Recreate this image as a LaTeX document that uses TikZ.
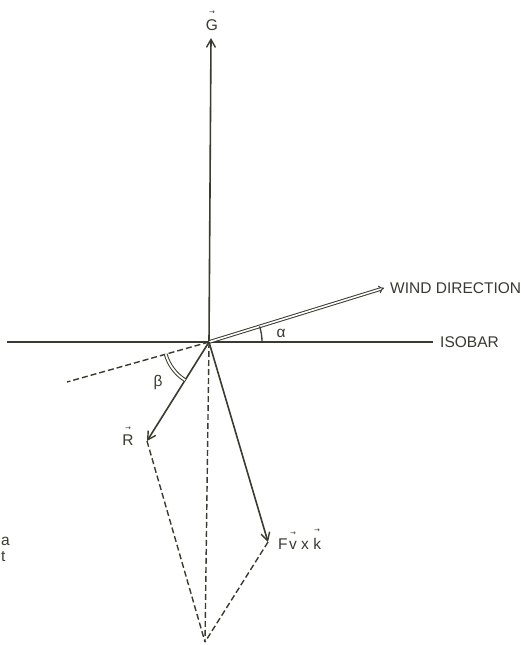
\documentclass[tikz,border=0pt]{standalone}
\usepackage{fontspec}
\setmainfont{Liberation Sans}
\newfontfamily\symfont{DejaVu Sans}
\usetikzlibrary{arrows.meta}
\definecolor{ink}{RGB}{58,58,48}
\newcommand{\vecl}[1]{\shortstack{{\fontsize{7}{6}\selectfont\symfont →}\\[2pt]#1}}
\tikzset{
  vect/.style={ink, line width=1.6pt, -{Straight Barb[length=8pt,width=9pt,line width=1.4pt]}},
  helper/.style={ink, line width=1.4pt, dash pattern=on 6pt off 3pt},
  lbl/.style={ink, font=\fontsize{15.5}{17}\selectfont, inner sep=1pt}
}
\begin{document}
\begin{tikzpicture}[x=1pt, y=-1pt]
  \useasboundingbox (0,0) rectangle (521,645);

  \coordinate (O) at (209,342);
  \coordinate (G) at (211,38);
  \coordinate (wind) at (384,288);
  \coordinate (isoL) at (7,342);
  \coordinate (isoR) at (433,342);
  \coordinate (dash) at (67,382);
  \coordinate (R) at (147,441);
  \coordinate (F) at (268,542);
  \coordinate (B) at (205,642);

  \draw[ink, line width=1.6pt] (isoL) -- (isoR);
  \draw[vect] (O) -- (G);
  \draw[ink, line width=1pt, double, double distance=1.6pt, -{Implies[length=8pt]}] (O) -- (wind);
  \draw[helper] (O) -- (dash);
  \draw[vect] (O) -- (R);
  \draw[vect] (O) -- (F);
  \draw[helper] (R) -- (B);
  \draw[helper] (O) -- (B);
  \draw[helper] (F) -- (B);

  \draw[ink, line width=1.3pt] (O) ++(0:53) arc[start angle=0, end angle=-17.1, radius=53];
  \draw[ink, line width=1pt, double, double distance=1.8pt] (O) ++(-195.7:45) arc[start angle=-195.7, end angle=-237.9, radius=45];

  \node[lbl, anchor=south] (Glbl) at (212,32) {\vecl{G}};
  \node[lbl, anchor=west] (windlbl) at (389,288) {WIND DIRECTION};
  \node[lbl, anchor=west] (isolbl) at (439,342) {ISOBAR};
  \node[lbl] (alpha) at (281,333) {α};
  \node[lbl] (beta) at (158,382) {β};
  \node[lbl, anchor=south] (Rlbl) at (128,447) {\vecl{R}};
  \node[lbl, anchor=base west] (Flbl) at (277,549) {F\kern1.5pt\vecl{v}\ x\ \vecl{k}};
  \node[lbl, anchor=west] (fraga) at (0,541) {a};
  \node[lbl, anchor=west] (fragt) at (0,557) {t};
\end{tikzpicture}
\end{document}
